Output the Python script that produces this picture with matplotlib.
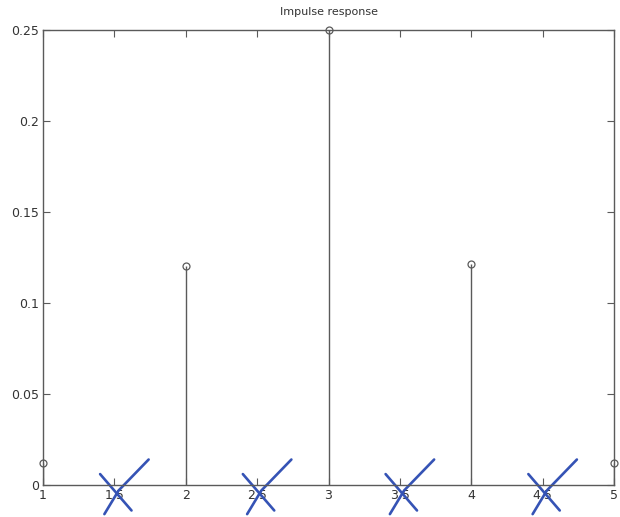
import numpy as np
import matplotlib
matplotlib.use("Agg")
import matplotlib.pyplot as plt

# impulse response samples
n = [1, 2, 3, 4, 5]
h = [0.0121, 0.1205, 0.25, 0.1213, 0.0121]

xticks = [1, 1.5, 2, 2.5, 3, 3.5, 4, 4.5, 5]
yticks = [0, 0.05, 0.1, 0.15, 0.2, 0.25]
crossed = [1.5, 2.5, 3.5, 4.5]  # hand drawn blue crosses over the half ticks

ink = "#5a5a5a"
pen = "#3553b5"

fig = plt.figure(figsize=(6.2, 5.17), dpi=100)
ax = fig.add_axes([43 / 620, 32 / 517, 571 / 620, 455 / 517])

markerline, stemlines, baseline = ax.stem(n, h, basefmt=" ")
plt.setp(stemlines, color=ink, linewidth=1.0)
plt.setp(markerline, color=ink, marker="o", markersize=5,
         markerfacecolor="none", markeredgewidth=0.9, clip_on=False)

ax.set_xlim(1, 5)
ax.set_ylim(0, 0.25)
ax.set_xticks(xticks)
ax.set_xticklabels(["1", "1.5", "2", "2.5", "3", "3.5", "4", "4.5", "5"])
ax.set_yticks(yticks)
ax.set_yticklabels(["0", "0.05", "0.1", "0.15", "0.2", "0.25"])
ax.tick_params(direction="in", top=True, right=True, length=5, width=0.8,
               colors=ink, labelsize=9, labelcolor="#333333", pad=3)
for s in ax.spines.values():
    s.set_color(ink)
    s.set_linewidth(1.0)

ax.set_title("Impulse response", fontsize=8, color="#333333", pad=11)

# pen strokes, drawn relative to each crossed tick
for p in crossed:
    ax.plot([p - 0.1, p + 0.12], [0.006, -0.014], color=pen, lw=1.9,
            clip_on=False, solid_capstyle="round")
    ax.plot([p - 0.07, p + 0.03, p + 0.24], [-0.016, -0.003, 0.014],
            color=pen, lw=1.9, clip_on=False, solid_capstyle="round")

fig.savefig("out.png", dpi=100)
